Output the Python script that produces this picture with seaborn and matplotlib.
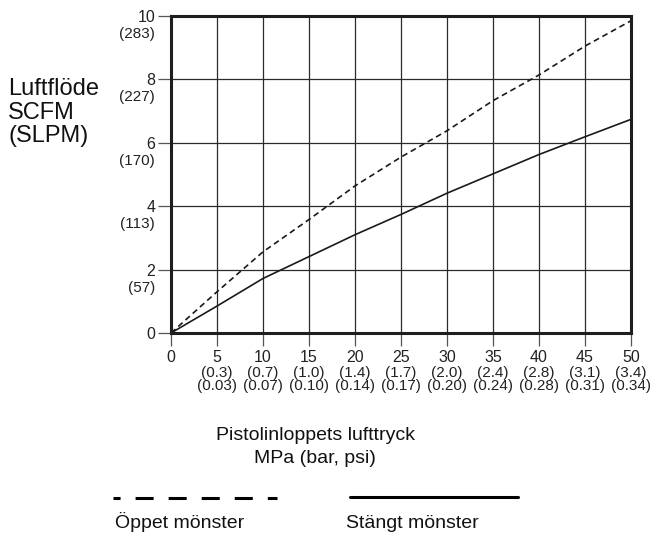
import matplotlib
matplotlib.use("Agg")
import matplotlib.pyplot as plt
import seaborn as sns
import pandas as pd
from matplotlib.lines import Line2D

# Gun inlet air pressure (MPa) and air flow (SCFM) for the two spray patterns
pressure = [0, 5, 10, 15, 20, 25, 30, 35, 40, 45, 50]
open_pattern = [0, 1.30, 2.56, 3.58, 4.64, 5.55, 6.38, 7.33, 8.14, 9.05, 9.85]
closed_pattern = [0, 0.85, 1.72, 2.41, 3.10, 3.74, 4.41, 5.02, 5.63, 6.19, 6.74]

# Secondary tick captions (bar, psi) and flow in SLPM
bar_labels = ["(0.3)", "(0.7)", "(1.0)", "(1.4)", "(1.7)", "(2.0)",
              "(2.4)", "(2.8)", "(3.1)", "(3.4)"]
psi_labels = ["(0.03)", "(0.07)", "(0.10)", "(0.14)", "(0.17)", "(0.20)",
              "(0.24)", "(0.28)", "(0.31)", "(0.34)"]
flow_ticks = [0, 2, 4, 6, 8, 10]
slpm_labels = ["", "(57)", "(113)", "(170)", "(227)", "(283)"]

sns.set_style("white")
plt.rcParams["font.family"] = ["Liberation Sans", "DejaVu Sans"]
plt.rcParams["lines.scale_dashes"] = False

W, H = 651, 536
fig = plt.figure(figsize=(W / 100, H / 100), dpi=100)
ax = fig.add_axes([171 / W, 203 / H, 460 / W, 317 / H])

df = pd.DataFrame({"tryck": pressure, "oppet": open_pattern, "stangt": closed_pattern})
ink = "#1a1a1a"
sns.lineplot(data=df, x="tryck", y="oppet", ax=ax, color=ink, linewidth=1.2,
             linestyle=(0, (4.2, 2.8)))
sns.lineplot(data=df, x="tryck", y="stangt", ax=ax, color=ink, linewidth=1.2)

ax.set_xlim(0, 50)
ax.set_ylim(0, 10)
ax.set_xticks(pressure)
ax.set_xticklabels([str(p) for p in pressure])
ax.set_yticks(flow_ticks)
ax.set_yticklabels([str(v) for v in flow_ticks])
ax.set_xlabel("")
ax.set_ylabel("")
ax.grid(True, color="#2a2a2a", linewidth=0.9)
ax.tick_params(axis="both", direction="out", length=9.4, width=0.9,
               color="#555555", labelsize=11.5, labelcolor="#222222", pad=2.0,
               bottom=True, left=True)
ax.tick_params(axis="x", pad=3.0)
for side in ["left", "right", "top", "bottom"]:
    ax.spines[side].set_visible(True)
    ax.spines[side].set_color("#1e1e1e")
    ax.spines[side].set_linewidth(2.2)

px = 0.72  # points per pixel at 100 dpi

# SLPM values under each SCFM tick
for v, lab in zip(flow_ticks, slpm_labels):
    if lab:
        ax.annotate(lab, xy=(0, v), xycoords=("axes fraction", "data"),
                    xytext=(-16 * px, -18 * px), textcoords="offset points",
                    ha="right", va="center", fontsize=11, color="#222222")

# bar and psi rows under each MPa tick
for v, b, p in zip(pressure[1:], bar_labels, psi_labels):
    ax.annotate(b, xy=(v, 0), xycoords=("data", "axes fraction"),
                xytext=(0, -40 * px), textcoords="offset points",
                ha="center", va="center", fontsize=11, color="#222222")
    ax.annotate(p, xy=(v, 0), xycoords=("data", "axes fraction"),
                xytext=(0, -53 * px), textcoords="offset points",
                ha="center", va="center", fontsize=11, color="#222222")

# Axis titles
for text, base in zip(["Luftflöde", "SCFM", "(SLPM)"], [95, 119, 142]):
    fig.text(8 / W, 1 - base / H, text, ha="left", va="baseline",
             fontsize=17, color="#111111")
fig.text(315 / W, 1 - 440 / H, "Pistolinloppets lufttryck", ha="center",
         va="baseline", fontsize=14, color="#111111")
fig.text(315 / W, 1 - 463 / H, "MPa (bar, psi)", ha="center",
         va="baseline", fontsize=14, color="#111111")

# Pattern key below the chart
fig.add_artist(Line2D([113 / W, 277 / W], [1 - 497.5 / H] * 2,
                      transform=fig.transFigure, color="black", linewidth=2.2,
                      linestyle=(7.9, (13, 10.8))))
fig.add_artist(Line2D([350 / W, 518 / W], [1 - 496.5 / H] * 2,
                      transform=fig.transFigure, color="black", linewidth=2.2))
fig.text(115 / W, 1 - 528 / H, "Öppet mönster", ha="left", va="baseline",
         fontsize=14, color="#111111")
fig.text(346 / W, 1 - 528 / H, "Stängt mönster", ha="left", va="baseline",
         fontsize=14, color="#111111")

fig.savefig("out.png", dpi=100)
